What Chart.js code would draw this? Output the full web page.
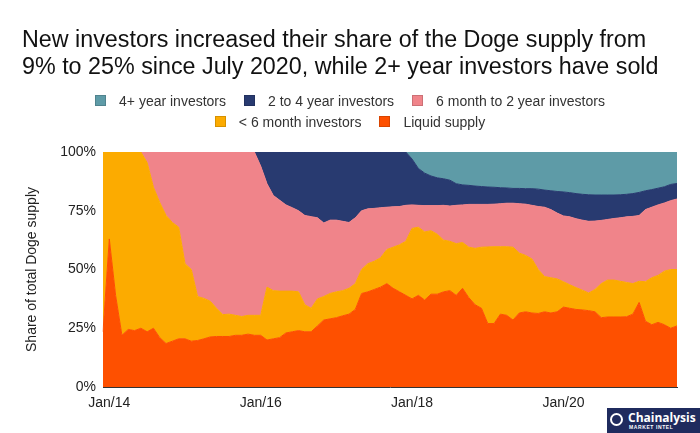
<!DOCTYPE html>
<html>
<head>
<meta charset="utf-8">
<script src="https://cdn.jsdelivr.net/npm/chart.js@4.4.1/dist/chart.umd.min.js"></script>
<style>
  body { margin: 0; background: #fff; font-family: "Liberation Sans", Arial, sans-serif; }
  #wrap { position: relative; width: 700px; height: 433px; overflow: hidden; }
  #grafico { position: absolute; left: 0; top: 0; }
  #titulo { position: absolute; left: 22px; top: 26px; font-size: 23.3px; line-height: 27px; color: #111; white-space: nowrap; }
  #leyenda { position: absolute; left: 0; top: 90px; width: 700px; font-size: 14px; color: #333; }
  .fila { display: flex; justify-content: center; align-items: center; height: 21px; }
  .item { display: flex; align-items: center; margin: 0 9px; }
  .caja { width: 11px; height: 11px; margin-right: 13px; box-sizing: border-box; border: 1px solid rgba(0,0,0,0.15); }
  #logo { position: absolute; left: 607px; top: 408px; width: 93px; height: 25px; background: #1f2b5e; color: #fff; }
  #logo .ico { position: absolute; left: 3px; top: 5px; width: 13px; height: 13px; border: 2.5px solid #fff; border-radius: 50%; box-sizing: border-box; }
  #logo .nom { position: absolute; left: 21px; top: 2px; font-family: "Open Sans", sans-serif; font-weight: 700; font-size: 12px; line-height: 15px; white-space: nowrap; }
  #logo .sub { position: absolute; left: 22px; top: 16px; font-size: 5px; line-height: 6px; font-weight: 700; letter-spacing: 0.6px; white-space: nowrap; }
</style>
</head>
<body>
<div id="wrap">
  <canvas id="grafico" width="700" height="433"></canvas>
  <div id="titulo">New investors increased their share of the Doge supply from<br>9% to 25% since July 2020, while 2+ year investors have sold</div>
  <div id="leyenda"></div>
  <div id="logo"><span class="ico"></span><div class="nom">Chainalysis</div><div class="sub">MARKET INTEL</div></div>
</div>
<script>
// Datos: participación (%) del suministro total de Doge, un punto por mes (Dic/13 a Jul/21)
var liquido = [23.5, 63, 39, 22, 24.5, 24, 25, 23.5, 25, 21,
  18.5, 19.5, 20.5, 20.5, 19.5, 19.8, 20.5, 21.3, 21.5, 21.5,
  21.5, 22, 22, 22.5, 22, 22, 20, 20.5, 21, 23,
  23.5, 24, 23.5, 23.5, 26, 28.5, 29, 29.5, 30.3, 31,
  33, 39.8, 40.5, 41.5, 42.5, 44, 42, 40.5, 39, 37.5,
  39, 37, 39.5, 39.5, 40.5, 41, 39, 42, 38, 35,
  33.5, 27, 27, 31, 30.5, 28.5, 31.5, 32, 31.5, 31.3,
  32, 31.5, 32, 34, 33.5, 33, 32.8, 32.5, 32, 29.5,
  29.8, 29.8, 29.8, 29.9, 31, 36, 28, 26.5, 27.5, 26.5,
  25, 26];
var menos6m = [76.5, 37, 61, 78, 75.5, 76, 75, 72, 60, 57.5,
  54.5, 50.5, 47.5, 32, 30.5, 18.7, 17.2, 15.2, 12, 9.3,
  9.5, 8.5, 8, 8, 8.5, 8.5, 22.5, 20.5, 19.8, 17.8,
  17.3, 16.5, 11.5, 10, 11.5, 10, 10.8, 11, 10.7, 11,
  11, 10.2, 12, 12, 12.5, 14.5, 17.5, 20, 23, 30,
  29, 29, 27, 25.5, 22, 21, 22, 19.5, 21.5, 24,
  26, 32.6, 32.7, 28.7, 29.2, 31, 25.5, 24, 23, 18.7,
  15, 15, 14, 10.8, 10, 9.3, 8.4, 7.5, 9.5, 14.5,
  15.7, 15.7, 15.2, 14.6, 13, 9, 16.8, 20, 20, 22.8,
  25, 24];
var seisMesesA2 = [0, 0, 0, 0, 0, 0, 0, 4.5, 15, 21.5,
  27, 30, 32, 47.5, 50, 61.5, 62.3, 63.5, 66.5, 69.2,
  69, 69.5, 70, 69.5, 69.5, 63.5, 44, 40.5, 38.7, 36.7,
  35.5, 34.5, 38, 39, 34.5, 31.3, 31.2, 30.5, 29.5, 28,
  28, 25, 23.3, 22.5, 21.3, 18, 17.2, 16.3, 15.3, 10,
  9.3, 11.2, 10.7, 12.2, 14.8, 15, 16.3, 16, 18.2, 18.7,
  18.2, 18.1, 18.1, 18.3, 18.5, 18.7, 21, 21.8, 22.8, 26.8,
  29.5, 29, 28, 28, 28.9, 29.3, 29.8, 30.5, 29.1, 26.9,
  25.8, 26.2, 27, 27.9, 28.6, 28, 30.7, 30, 30, 29,
  29.3, 30];
var dosA4 = [0, 0, 0, 0, 0, 0, 0, 0, 0, 0,
  0, 0, 0, 0, 0, 0, 0, 0, 0, 0,
  0, 0, 0, 0, 0, 6, 13.5, 18.5, 20.5, 22.5,
  23.7, 25, 27, 27.5, 28, 30.2, 29, 29, 29.5, 30,
  28, 25, 24.2, 24, 23.7, 23.5, 23.3, 23.2, 22.7, 19.5,
  15.7, 13.8, 12.6, 11.8, 11.3, 11, 9.2, 8.5, 8.1, 7.8,
  7.6, 7.4, 7.2, 6.8, 6.5, 6.3, 6.5, 6.6, 7.1, 7.4,
  7.3, 8, 9.2, 10.2, 10.3, 10.7, 11, 11.3, 11.1, 10.8,
  10.4, 10, 9.8, 9.6, 9.7, 9.8, 8, 7.5, 7.1, 6.9,
  6.9, 6.6];
var mas4 = [0, 0, 0, 0, 0, 0, 0, 0, 0, 0,
  0, 0, 0, 0, 0, 0, 0, 0, 0, 0,
  0, 0, 0, 0, 0, 0, 0, 0, 0, 0,
  0, 0, 0, 0, 0, 0, 0, 0, 0, 0,
  0, 0, 0, 0, 0, 0, 0, 0, 0, 3,
  7, 9, 10.2, 11, 11.4, 12, 13.5, 14, 14.2, 14.5,
  14.7, 14.9, 15, 15.2, 15.3, 15.5, 15.5, 15.6, 15.6, 15.8,
  16.2, 16.5, 16.8, 17, 17.3, 17.7, 18, 18.2, 18.3, 18.3,
  18.3, 18.3, 18.2, 18, 17.7, 17.2, 16.5, 16, 15.4, 14.8,
  13.8, 13.4];

// Etiquetas mensuales (Dic/13 ... Jul/21)
var meses = ['Jan', 'Feb', 'Mar', 'Apr', 'May', 'Jun', 'Jul', 'Aug', 'Sep', 'Oct', 'Nov', 'Dec'];
var etiquetas = [];
for (var i = 0; i < liquido.length; i++) {
  var m = (11 + i) % 12;
  var a = 13 + Math.floor((11 + i) / 12);
  etiquetas.push(meses[m] + '/' + a);
}
var ticksX = ['Jan/14', 'Jan/16', 'Jan/18', 'Jan/20'];

var series = [
  { label: '4+ year investors', data: mas4, color: '#5e9ba7' },
  { label: '2 to 4 year investors', data: dosA4, color: '#283a70' },
  { label: '6 month to 2 year investors', data: seisMesesA2, color: '#f0848a' },
  { label: '< 6 month investors', data: menos6m, color: '#fcab00' },
  { label: 'Liquid supply', data: liquido, color: '#fe5000' }
];

// Leyenda en HTML (3 + 2 elementos, como el original)
var leyenda = document.getElementById('leyenda');
[[0, 1, 2], [3, 4]].forEach(function (fila) {
  var div = document.createElement('div');
  div.className = 'fila';
  fila.forEach(function (k) {
    var it = document.createElement('div');
    it.className = 'item';
    var caja = document.createElement('span');
    caja.className = 'caja';
    caja.style.background = series[k].color;
    it.appendChild(caja);
    it.appendChild(document.createTextNode(series[k].label));
    div.appendChild(it);
  });
  leyenda.appendChild(div);
});

// Orden de apilado: líquido abajo, 4+ arriba
var datasets = series.slice().reverse().map(function (s, idx) {
  return {
    label: s.label,
    data: s.data,
    backgroundColor: s.color,
    borderColor: s.color,
    borderWidth: idx === 4 ? 1.5 : 1,
    pointRadius: 0,
    tension: 0,
    fill: idx === 0 ? 'origin' : '-1'
  };
});

var ctx = document.getElementById('grafico').getContext('2d');
var grafico = new Chart(ctx, {
  type: 'line',
  data: { labels: etiquetas, datasets: datasets },
  options: {
    responsive: false,
    animation: false,
    layout: { padding: { top: 152, right: 23, left: 0, bottom: 0 } },
    plugins: { legend: { display: false }, tooltip: { enabled: false } },
    scales: {
      x: {
        grid: { display: false, drawTicks: false },
        border: { display: true, color: '#333', width: 1 },
        ticks: {
          autoSkip: false, maxRotation: 0, padding: 8,
          color: '#222', font: { family: 'Liberation Sans', size: 14 },
          callback: function (v) {
            var l = this.getLabelForValue(v);
            return ticksX.indexOf(l) >= 0 ? l : '';
          }
        },
        afterFit: function (s) { s.height = 46; }
      },
      y: {
        stacked: true,
        min: 0, max: 100,
        grid: { display: false, drawTicks: false },
        border: { display: false },
        ticks: {
          stepSize: 25, padding: 7,
          color: '#222', font: { family: 'Liberation Sans', size: 14 },
          callback: function (v) { return v + '%'; }
        },
        title: {
          display: true, text: 'Share of total Doge supply',
          color: '#222', font: { family: 'Liberation Sans', size: 14 },
          padding: { top: 24, bottom: 0 }
        },
        afterFit: function (s) { s.width = 103; }
      }
    }
  }
});
</script>
</body>
</html>
